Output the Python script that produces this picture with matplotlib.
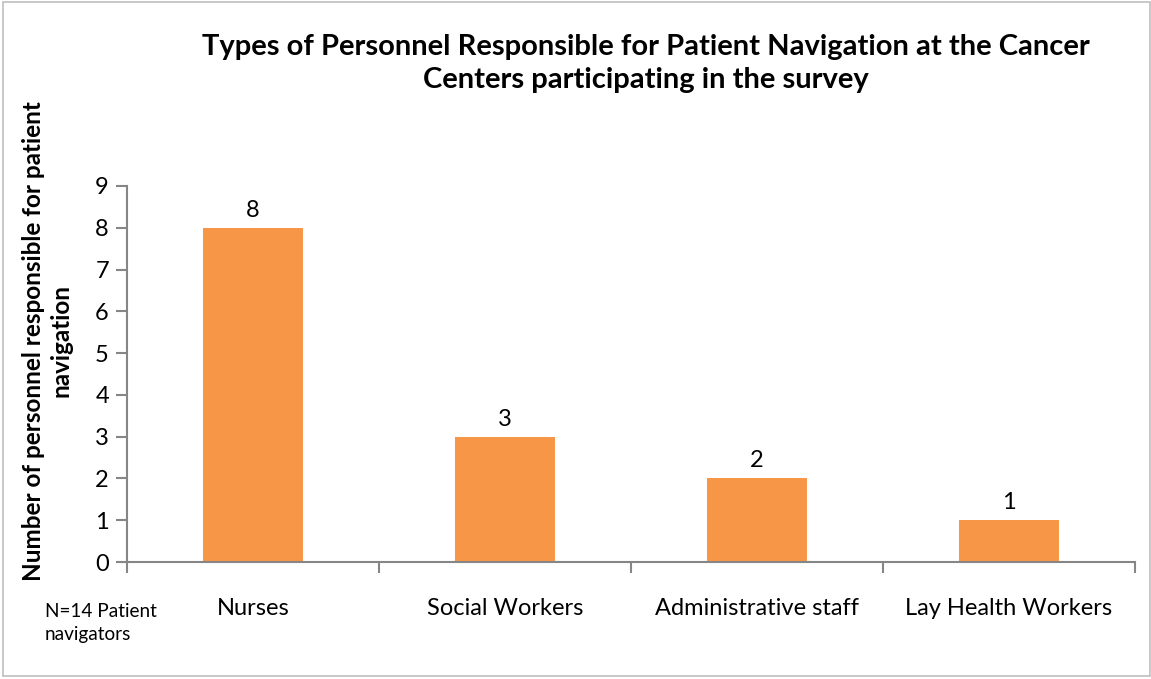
import matplotlib.pyplot as plt
from matplotlib.patches import Rectangle

# Personnel categories and counts
categories = ['Nurses', 'Social Workers', 'Administrative staff', 'Lay Health Workers']
counts = [8, 3, 2, 1]
y_ticks = list(range(0, 10))

plt.rcParams['font.family'] = ['Lato', 'DejaVu Sans']

fig = plt.figure(figsize=(11.51, 6.79), dpi=100)
ax = fig.add_axes([0.1103, 0.1723, 0.8758, 0.5538])

x = list(range(len(categories)))
bars = ax.bar(x, counts, width=0.4, color='#F79646', zorder=2)

# Data labels above bars
for xi, c in zip(x, counts):
    ax.text(xi, c + 0.17, f'{c:d}', ha='center', va='bottom', fontsize=17)

ax.set_xlim(-0.5, 3.5)
ax.set_ylim(0, 9)
ax.set_yticks(y_ticks)
ax.set_xticks([i - 0.5 for i in range(len(categories) + 1)], minor=False)
ax.set_xticklabels([''] * (len(categories) + 1))
ax.set_xticks(x, minor=True)
ax.set_xticklabels(categories, minor=True, fontsize=17)

axis_col = '#868686'
for s in ['top', 'right']:
    ax.spines[s].set_visible(False)
for s in ['left', 'bottom']:
    ax.spines[s].set_color(axis_col)
    ax.spines[s].set_linewidth(1.5)
ax.tick_params(axis='y', direction='out', length=8, width=1.5, color=axis_col, labelsize=17, pad=5)
ax.tick_params(axis='x', which='major', direction='out', length=8, width=1.5, color=axis_col)
ax.tick_params(axis='x', which='minor', length=0, pad=26)

# y axis title sits higher than the plot centre, like in the original
fig.text(0.041, 0.498, 'Number of personnel responsible for patient\nnavigation', rotation=90,
         ha='center', va='center', fontsize=17.5, fontweight='bold', linespacing=1.25)

fig.text(0.561, 0.9065, 'Types of Personnel Responsible for Patient Navigation at the Cancer\nCenters participating in the survey',
         ha='center', va='center', fontsize=21, fontweight='bold', linespacing=1.35)

fig.text(0.039, 0.082, 'N=14 Patient\nnavigators', ha='left', va='center', fontsize=13.7, linespacing=1.45)

# Chart border
fig.patches.append(Rectangle((0.003, 0.004), 0.996, 0.993, transform=fig.transFigure,
                             fill=False, edgecolor='#BFBFBF', linewidth=1.2))

fig.savefig('out.png', dpi=100)
